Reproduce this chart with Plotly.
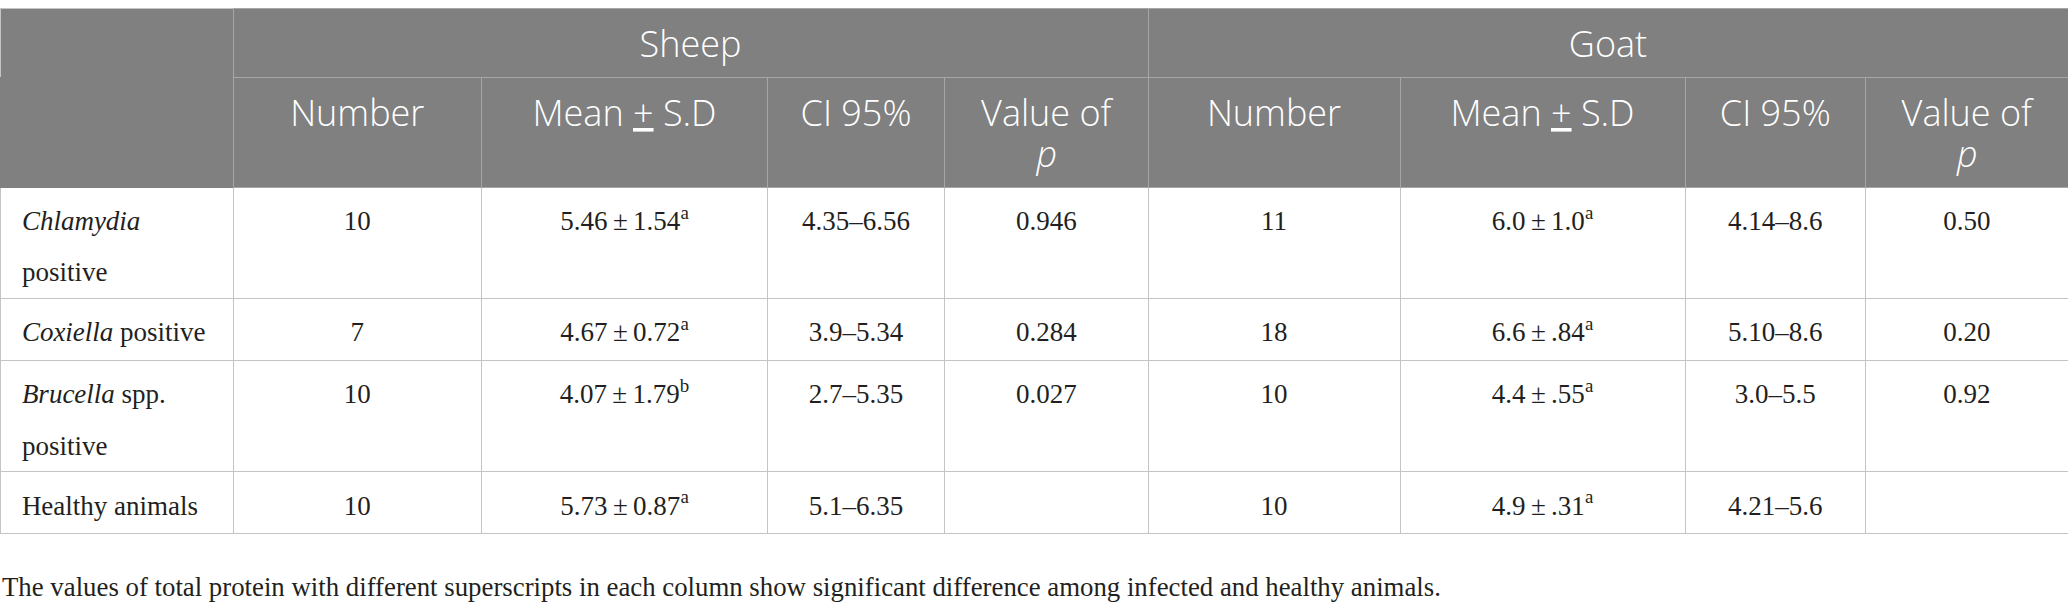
import plotly.graph_objects as go

species = ["Sheep", "Goat"]
sub_headers = ["Number", "Mean <u>+</u> S.D", "CI 95%", "Value of<br><i>p</i>"]
groups = ["<i>Chlamydia</i><br>positive", "<i>Coxiella</i> positive",
          "<i>Brucella</i> spp.<br>positive", "Healthy animals"]

sheep_number = ["10", "7", "10", "10"]
sheep_mean = ["5.46", "4.67", "4.07", "5.73"]
sheep_sd = ["1.54", "0.72", "1.79", "0.87"]
sheep_sup = ["a", "a", "b", "a"]
sheep_ci = ["4.35–6.56", "3.9–5.34", "2.7–5.35", "5.1–6.35"]
sheep_p = ["0.946", "0.284", "0.027", ""]

goat_number = ["11", "18", "10", "10"]
goat_mean = ["6.0", "6.6", "4.4", "4.9"]
goat_sd = ["1.0", ".84", ".55", ".31"]
goat_sup = ["a", "a", "a", "a"]
goat_ci = ["4.14–8.6", "5.10–8.6", "3.0–5.5", "4.21–5.6"]
goat_p = ["0.50", "0.20", "0.92", ""]

footnote = ("The values of total protein with different superscripts in each column "
            "show significant difference among infected and healthy animals.")

# --- layout constants ---
W, H = 2068, 614
col_w = [233, 248.5, 286, 177, 203.5, 252, 285, 180.5, 202.5]
grp_w = [col_w[0], sum(col_w[1:5]), sum(col_w[5:9])]
HEAD_BG = "#7f807f"
HEAD_LINE = "#a6a6a6"
LINE = "#c4c4c4"
TXT = "#231f20"
SANS = "Open Sans"
SERIF = "Liberation Serif"
NB = "\u00a0"
THIN = "\u2009"

# plotly tables space lines at 1.3x the cell font size, so the cell font is set
# to give the wanted line pitch and the visible text sits in a smaller span;
# a no-break space at the larger size pushes the first baseline down
BODY_BASE, BODY_SIZE = 39.5, 27
HEAD_BASE, HEAD_SIZE, HEAD_PAD = 31.5, 36, 38.4
HEAD_STYLE = f"font-size:{HEAD_SIZE}px;font-weight:350"


def finish(lines):
    # a <br> keeps plotly from re-wrapping the text (and splitting the span tags)
    txt = "<br>".join(lines)
    return txt if len(lines) > 1 else txt + "<br>"


def body_cell(text, indent=False):
    if not text:
        return ""
    lead = NB + ('<span style="font-size:16px">' + NB + "</span>" if indent else "")
    return finish([f'{lead}<span style="font-size:{BODY_SIZE}px">{ln}</span>{NB}'
                   for ln in text.split("<br>")])


def head_cell(text):
    if not text:
        return ""
    pad = f'<span style="font-size:{HEAD_PAD}px">{NB}</span>'
    lines = text.split("<br>")
    out = [f'{pad}<span style="{HEAD_STYLE}">{lines[0]}</span>{pad}']
    # second header line ("p") is nudged over to sit under the centre of the first
    out += [f'<span style="{HEAD_STYLE}">{NB * 7}{ln}</span>' for ln in lines[1:]]
    return finish(out)


def mean_sd(m, s, sup):
    return [f"{a}{THIN}±{THIN}{b}<sup>{c}</sup>" for a, b, c in zip(m, s, sup)]


def px_y(y):
    return 1 - y / H


columns = [groups,
           sheep_number, mean_sd(sheep_mean, sheep_sd, sheep_sup), sheep_ci, sheep_p,
           goat_number, mean_sd(goat_mean, goat_sd, goat_sup), goat_ci, goat_p]

top_row = go.Table(
    domain=dict(x=[0, 1], y=[px_y(77), px_y(8)]),
    columnwidth=grp_w,
    header=dict(values=[head_cell(t) for t in [""] + species],
                fill_color=HEAD_BG, line_color=[LINE, HEAD_LINE, HEAD_LINE],
                align="center", height=69,
                font=dict(family=SANS, size=HEAD_BASE, color="white")),
    cells=dict(values=[[], [], []], height=1),
)

body = go.Table(
    domain=dict(x=[0, 1], y=[0, px_y(77)]),
    columnwidth=col_w,
    header=dict(values=[head_cell(t) for t in [""] + sub_headers * 2],
                fill_color=HEAD_BG, line_color=[HEAD_BG] + [HEAD_LINE] * 8,
                align="center", height=110,
                font=dict(family=SANS, size=HEAD_BASE, color="white")),
    cells=dict(
        values=[[body_cell(t, i == 0) for t in col] for i, col in enumerate(columns)],
        align=["left"] + ["center"] * 8,
        fill_color="white", line_color=LINE, height=62,
        font=dict(family=SERIF, size=BODY_BASE, color=TXT),
    ),
)

fig = go.Figure([top_row, body])
fig.add_annotation(text=footnote, x=0, y=px_y(587), xref="paper", yref="paper",
                   xanchor="left", yanchor="middle", showarrow=False,
                   font=dict(family=SERIF, size=26.8, color=TXT))
fig.update_layout(width=W, height=H, margin=dict(l=0, r=0, t=0, b=0),
                  paper_bgcolor="white", plot_bgcolor="white")
fig.write_html("out.html", config={"displayModeBar": False},
               post_script="document.body.style.margin = '0';")
